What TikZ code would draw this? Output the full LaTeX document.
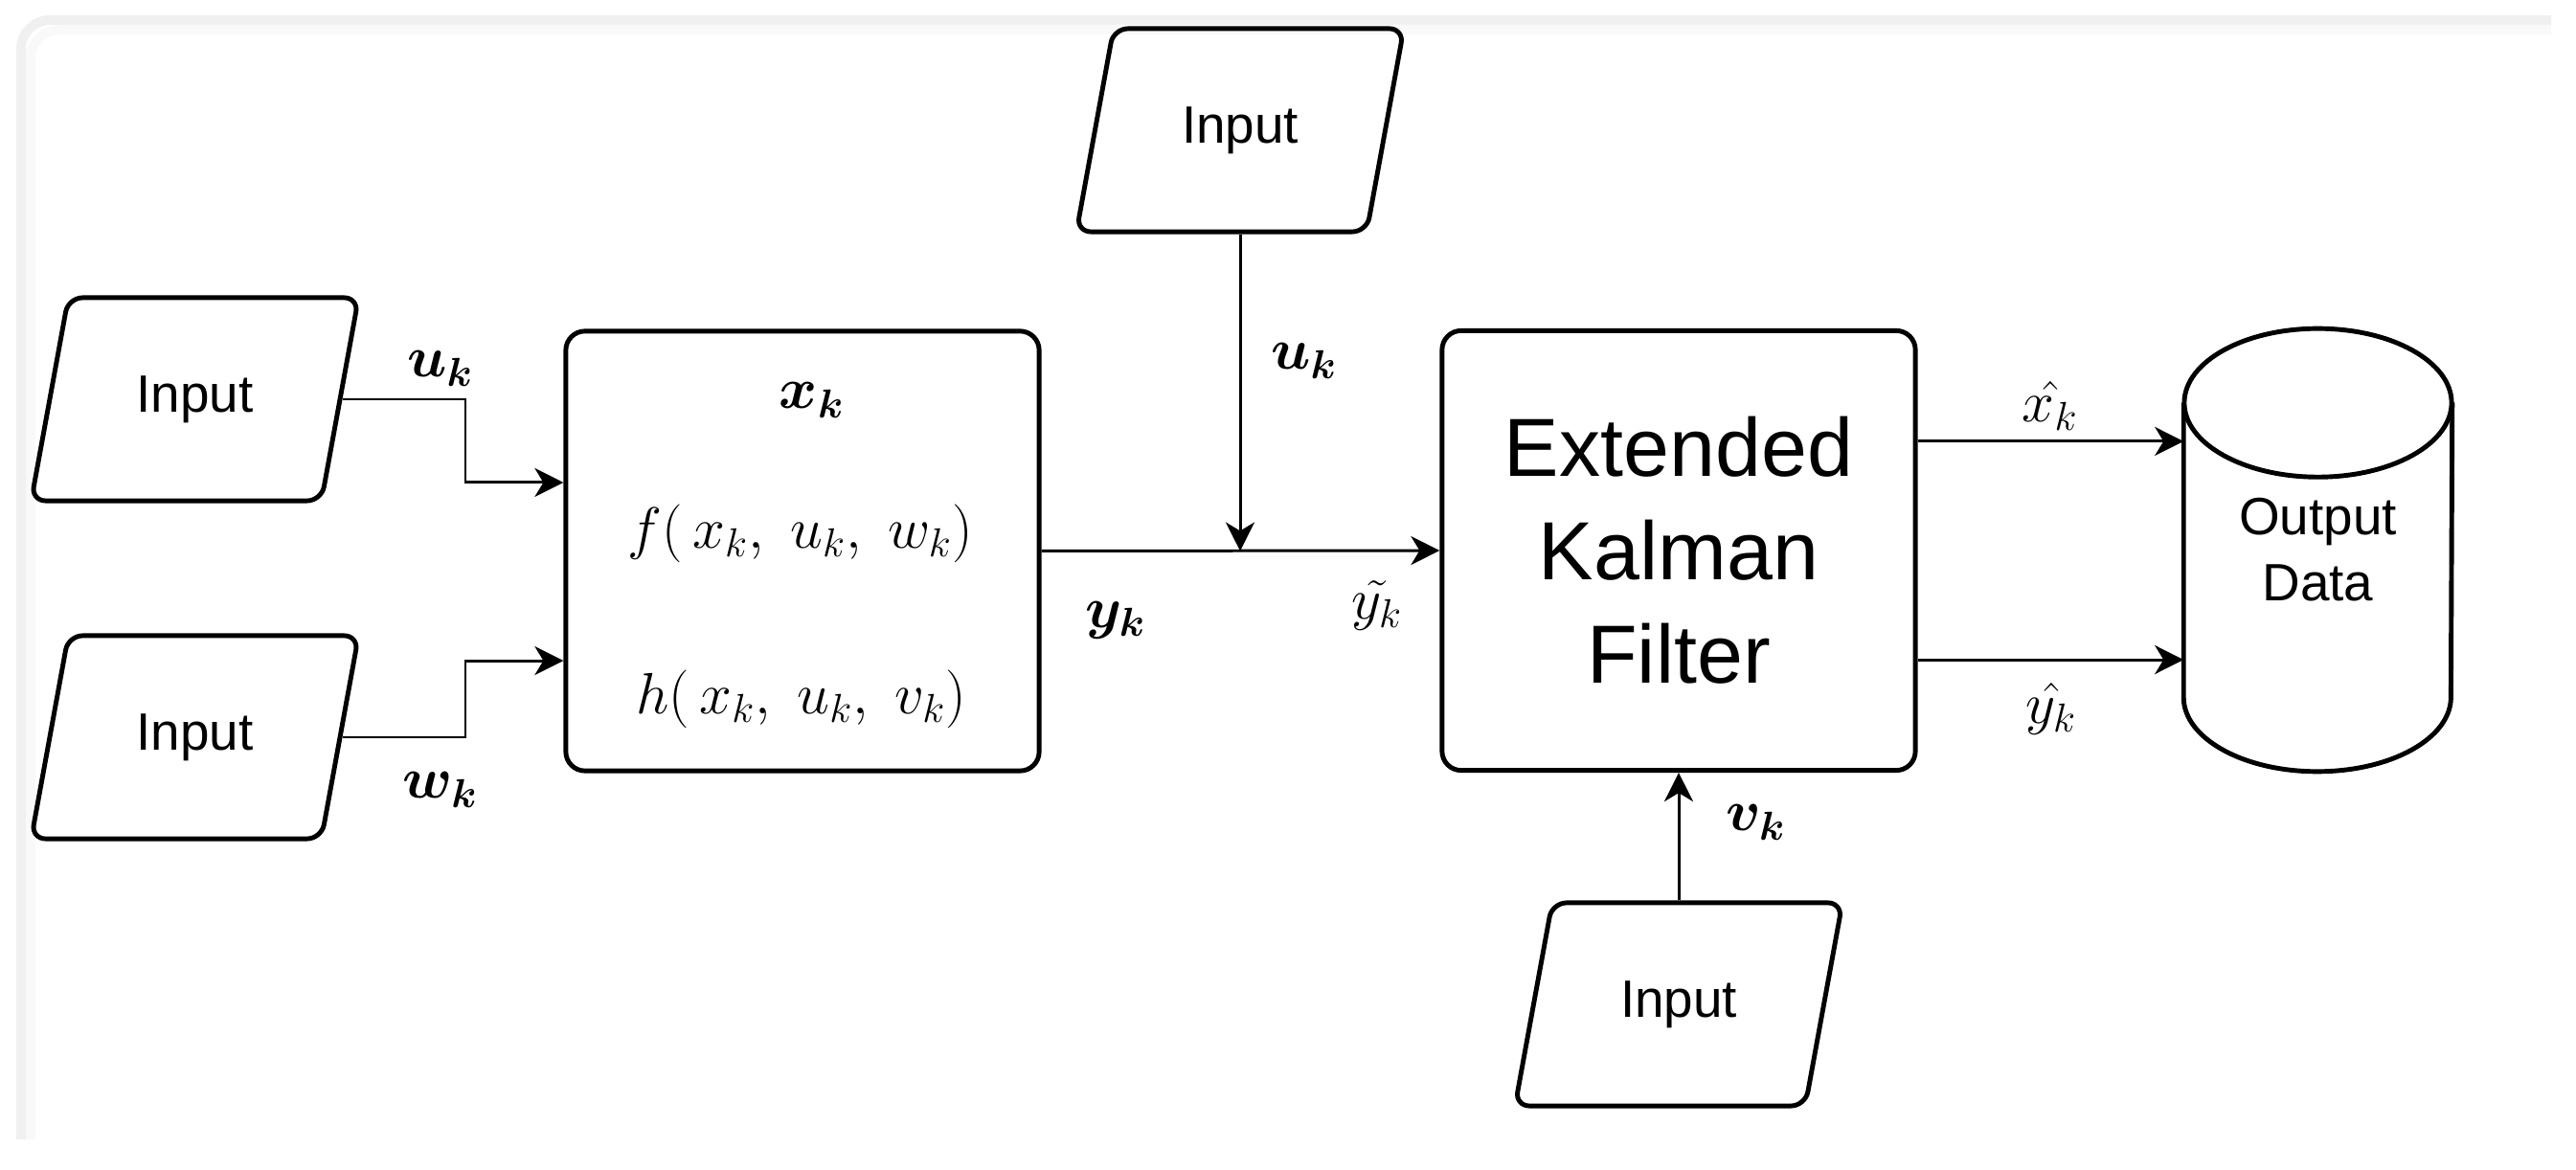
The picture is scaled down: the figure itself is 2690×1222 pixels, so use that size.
\documentclass[tikz,border=0pt]{standalone}
\usepackage[no-math]{fontspec}
\newfontfamily\arial{Liberation Sans}
\usepackage{amsmath,bm}
\usetikzlibrary{shapes.geometric, arrows.meta, calc}
\begin{document}
\begin{tikzpicture}[x=0.01cm, y=-0.01cm,
  inbox/.style={trapezium, trapezium left angle=70, trapezium right angle=110,
    trapezium stretches=true, draw, line width=1.4pt, rounded corners=0.15cm,
    minimum width=3.43cm, minimum height=2.12cm, inner sep=0pt,
    font=\arial\fontsize{15.6}{19}\selectfont},
  procbox/.style={rectangle, draw, line width=1.4pt, rounded corners=0.2cm,
    minimum width=4.94cm, minimum height=4.59cm, inner sep=0pt},
  conn/.style={line width=0.85pt},
  arr/.style={conn, -{Stealth[length=0.3cm, width=0.3cm, inset=0.09cm]}},
  lbl/.style={inner sep=0pt, font=\fontsize{16.5}{19}\selectfont},
  biglbl/.style={inner sep=0pt, font=\fontsize{18.5}{22}\selectfont},
  cylline/.style={line width=1.4pt},
]
\useasboundingbox (0,0) rectangle (2690,1222);
% card frame
\draw[gray!12, line width=0.1cm, rounded corners=0.3cm] (22,1190) -- (22,21) -- (2664,21);
\draw[gray!5, line width=0.1cm, rounded corners=0.3cm] (32,1190) -- (32,31) -- (2664,31);

% nodes
\node[inbox] (in1) at (203.5,417) {Input};
\node[inbox] (in2) at (203.5,770) {Input};
\node[inbox] (in3) at (1295,136) {Input};
\node[inbox] (in4) at (1753,1049) {Input};

\node[procbox] (sys) at (838,575.5) {};
\node[biglbl] (sx) at (848,418) {$\bm{x_k}$};
\node[lbl] (sf) at (836,557) {$f(\,x_k,\; u_k,\; w_k)$};
\node[lbl] (sh) at (837,730) {$h(\,x_k,\; u_k,\; v_k)$};

\node[procbox, align=center, font=\arial\fontsize{24.5}{30.7}\selectfont] (ekf) at (1753,575) {Extended\\Kalman\\Filter};

\node[minimum width=2.79cm, minimum height=4.61cm, inner sep=0pt, align=center,
  font=\arial\fontsize{15.6}{19.6}\selectfont] (cyl) at (2420.5,574.5) {Output\\Data};
\draw[cylline] ([yshift=-0.775cm]cyl.north) ellipse [x radius=1.395cm, y radius=0.775cm];
\draw[cylline] ([yshift=-0.775cm]cyl.north west) -- ([yshift=0.775cm]cyl.south west)
  arc[start angle=180, end angle=360, x radius=1.395cm, y radius=0.775cm]
  -- ([yshift=-0.775cm]cyl.north east);

% connectors
\coordinate (kx) at (486,0);
\coordinate (uin) at ([yshift=0.715cm]sys.west);
\coordinate (win) at ([yshift=-1.145cm]sys.west);
\draw[arr] (in1.east) -- (in1.east -| kx) |- (uin);
\draw[arr] (in2.east) -- (in2.east -| kx) |- (win);
\coordinate (junc) at (in3.center |- sys.east);
\draw[arr] (sys.east) -- (ekf.west);
\draw[arr] (in3.270) -- (junc);
\draw[arr] (in4.90) -- (ekf.south);
\coordinate (xo) at ([yshift=1.14cm]ekf.east);
\coordinate (yo) at ([yshift=-1.14cm]ekf.east);
\draw[arr] (xo) -- (xo -| cyl.west);
\draw[arr] (yo) -- (yo -| cyl.west);

% labels
\node[lbl] (lu1) at (460,385) {$\bm{u_k}$};
\node[lbl] (lw) at (460,825) {$\bm{w_k}$};
\node[biglbl] (ly) at (1165,648) {$\bm{y_k}$};
\node[lbl] (lu2) at (1362,377) {$\bm{u_k}$};
\node[biglbl] (lyt) at (1438,632) {$\tilde{y_k}$};
\node[biglbl] (lxh) at (2141,424) {$\hat{x_k}$};
\node[biglbl] (lyh) at (2142,740) {$\hat{y_k}$};
\node[lbl] (lv) at (1834,859) {$\bm{v_k}$};
\end{tikzpicture}
\end{document}
